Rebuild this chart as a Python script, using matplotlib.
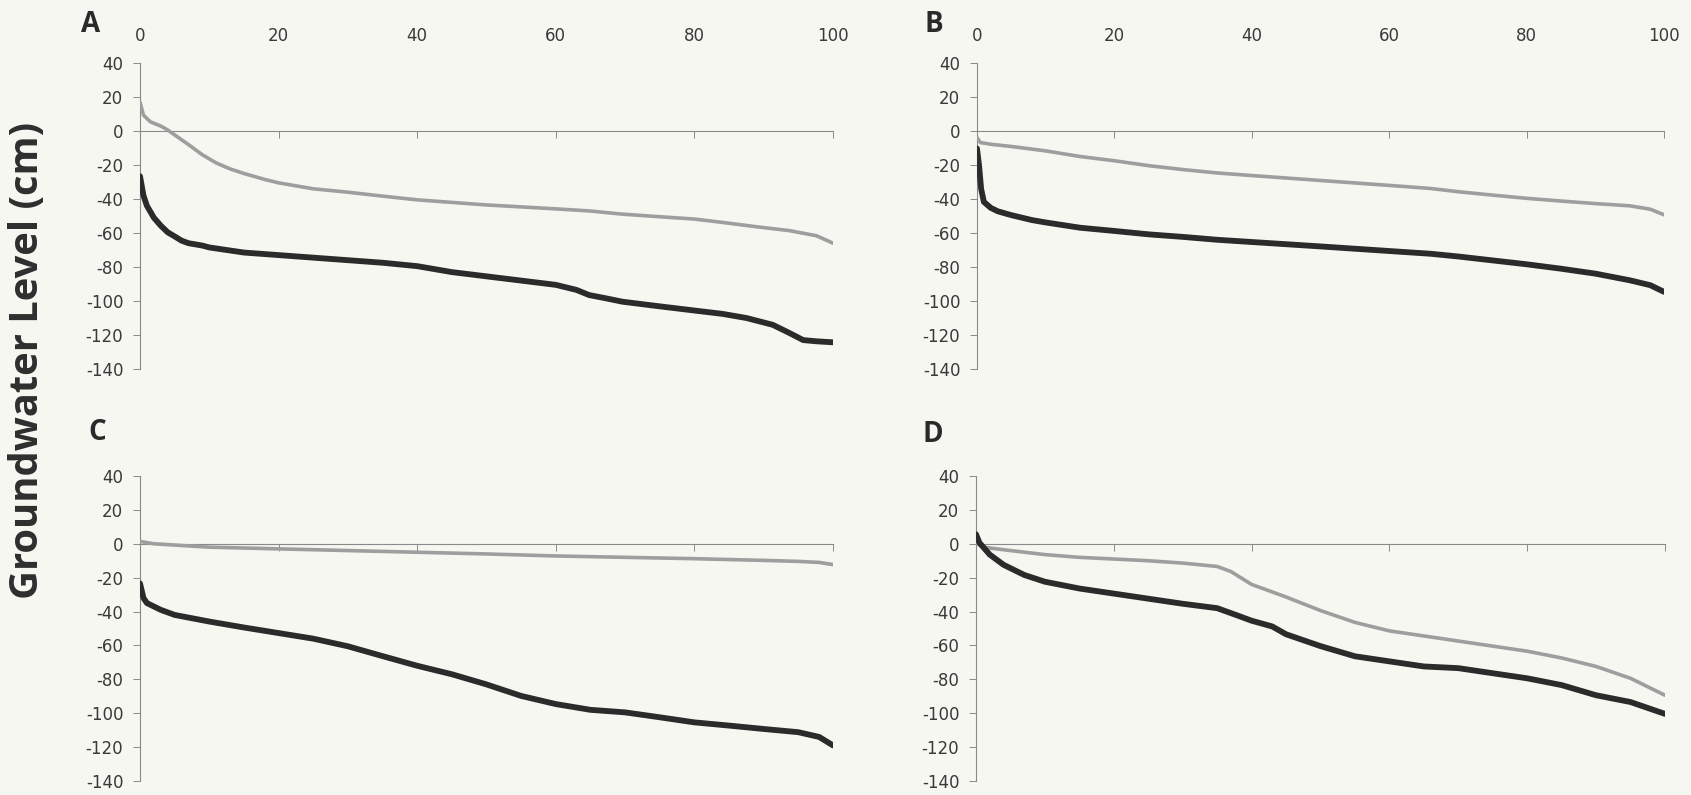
import matplotlib
matplotlib.use("Agg")
import matplotlib.pyplot as plt

# ---------------- data (percent of time exceeded vs groundwater level, cm) -------------
a_gray_x = [0, 0.5, 1.5, 3, 4, 5, 7, 9, 11, 13, 15, 18, 20, 25, 30, 35, 40, 50, 60, 64.8,
            69.6, 74.5, 80, 84.1, 88.9, 93.7, 97.6, 100]
a_gray_y = [17, 9.3, 5.4, 2.9, 0.6, -2.3, -8, -14, -18.8, -22.3, -25, -28.5, -30.5, -34, -36,
            -38.3, -40.5, -43.5, -45.8, -47, -48.9, -50.3, -51.8, -53.8, -56.3, -58.6, -61.6, -66]
a_black_x = [0, 0.5, 1, 2, 3, 4, 5, 6, 7, 9, 10, 15, 20, 25, 30, 35, 40, 45, 50, 55, 60, 63,
             64.8, 67.2, 69.6, 74.5, 80, 84.1, 87.5, 91.3, 93.7, 95.7, 97.6, 100]
a_black_y = [-26.6, -38, -44, -51, -55.7, -59.6, -62, -64.5, -66, -67.4, -68.5, -71.5, -73,
             -74.5, -76, -77.5, -79.5, -83, -85.5, -88, -90.5, -93.5, -96.5, -98.4, -100.4,
             -102.9, -105.6, -107.6, -110, -114, -118.8, -123, -123.7, -124.3]

b_gray_x = [0, 0.5, 2, 5, 10, 15, 20, 25, 30, 35, 40, 50, 60, 66, 70, 75, 80, 85, 90, 95, 98, 100]
b_gray_y = [-3.9, -6.8, -7.8, -9.1, -11.7, -15, -17.5, -20.4, -22.7, -24.7, -26.2, -29.1, -32,
            -33.8, -35.7, -37.7, -39.6, -41.2, -42.7, -44, -46, -49.3]
b_black_x = [0, 0.3, 0.6, 1, 2, 3, 5, 8, 10, 15, 20, 25, 30, 35, 40, 50, 60, 66, 70, 75, 80,
             85, 90, 95, 98, 100]
b_black_y = [-10.3, -20.4, -34, -41.7, -45.2, -47.2, -49.5, -52.4, -53.8, -56.9, -58.8, -60.8,
             -62.3, -64, -65.3, -67.9, -70.6, -72.2, -73.8, -76.1, -78.4, -81, -83.9, -87.8,
             -90.7, -94.6]

c_gray_x = [0, 2, 10, 20, 30, 40, 50, 60, 70, 80, 90, 95, 98, 100]
c_gray_y = [1.4, 0, -2, -3, -4, -5, -6, -7.2, -8, -8.8, -9.8, -10.4, -11, -12.3]
c_black_x = [0, 0.5, 1, 3, 5, 10, 15, 20, 25, 30, 35, 40, 45, 50, 55, 60, 65, 70, 75, 80, 85,
             90, 95, 98, 100]
c_black_y = [-23.4, -32, -35, -39, -42, -45.9, -49.4, -52.7, -56, -60.5, -66.3, -72, -77, -83,
             -89.8, -94.6, -98, -99.5, -102.4, -105.4, -107.3, -109.3, -111.2, -114, -119]

d_gray_x = [0, 1, 5, 10, 15, 20, 25, 30, 35, 37, 40, 45, 50, 55, 60, 65, 70, 75, 80, 85, 90,
            95, 98, 100]
d_gray_y = [0.6, -2, -4, -6.4, -8, -9, -10, -11.4, -13.4, -16.4, -24, -31.4, -39.4, -46.4, -51.4,
            -54.4, -57.4, -60.4, -63.4, -67.4, -72.4, -79.4, -85.4, -89.4]
d_black_x = [0, 0.5, 2, 4, 7, 10, 15, 20, 25, 30, 35, 38, 40, 43, 45, 50, 55, 60, 65, 70, 75,
             80, 85, 90, 95, 100]
d_black_y = [5.6, 0.6, -6.4, -12.4, -18.4, -22.4, -26.4, -29.4, -32.4, -35.4, -38, -42.4, -45.4,
             -48.8, -53.4, -60.4, -66.4, -69.4, -72.4, -73.4, -76.4, -79.4, -83.4, -89.4, -93.4,
             -100.4]

panel_letters = ["A", "B", "C", "D"]
x_ticks = [0, 20, 40, 60, 80, 100]
y_ticks = [40, 20, 0, -20, -40, -60, -80, -100, -120, -140]
y_label = "Groundwater Level (cm)"

# ---------------- figure ----------------
W, H = 1691, 795
BG = "#f5f7f0"
fig = plt.figure(figsize=(W / 100, H / 100), dpi=100, facecolor=BG)

def fx(px):
    return px / W

def fy(py):
    return 1 - py / H

# panel rectangles in pixel coords: (left, right, top(y=40), bottom(y=-140))
rects = [(140, 833, 63, 369), (977, 1664, 63, 369),
         (140, 833, 476, 781), (976, 1665, 476, 781)]
series = [(a_gray_x, a_gray_y, a_black_x, a_black_y),
          (b_gray_x, b_gray_y, b_black_x, b_black_y),
          (c_gray_x, c_gray_y, c_black_x, c_black_y),
          (d_gray_x, d_gray_y, d_black_x, d_black_y)]
letter_pos = [(91, 25), (934, 24), (97, 432), (933, 434)]
top_labels = [True, True, False, False]

AX_COL = "#8a8a8a"
TXT_COL = "#3a3a3a"
GRAY = "#9e9e9e"
BLACK = "#2b2b2b"

for i, ((l, r, t, b), (gx, gy, bx, by)) in enumerate(zip(rects, series)):
    ax = fig.add_axes([fx(l), fy(b), fx(r - l), (b - t) / H])
    ax.set_facecolor("none")
    ax.plot(gx, gy, color=GRAY, lw=2.6, solid_capstyle="round", solid_joinstyle="round", zorder=3)
    ax.plot(bx, by, color=BLACK, lw=4.2, solid_capstyle="round", solid_joinstyle="round", zorder=4)
    ax.set_xlim(0, 100)
    ax.set_ylim(-140, 40)
    for s in ["top", "right"]:
        ax.spines[s].set_visible(False)
    ax.spines["left"].set_color(AX_COL)
    ax.spines["left"].set_linewidth(0.8)
    ax.spines["bottom"].set_position(("data", 0))
    ax.spines["bottom"].set_color(AX_COL)
    ax.spines["bottom"].set_linewidth(0.8)
    ax.set_yticks(y_ticks)
    ax.set_yticklabels([str(v) if v >= 0 else "-" + str(-v) for v in y_ticks])
    ax.tick_params(axis="y", direction="out", length=5, width=0.7, color=AX_COL,
                   labelsize=12, labelcolor=TXT_COL, pad=7)
    ax.set_xticks(x_ticks)
    ax.tick_params(axis="x", direction="out", length=5, width=0.7, color=AX_COL,
                   labelbottom=False)
    if top_labels[i]:
        sec = ax.secondary_xaxis("top")
        sec.set_xticks(x_ticks)
        sec.set_xticklabels([str(v) for v in x_ticks])
        sec.tick_params(axis="x", length=0, labelsize=12, labelcolor=TXT_COL, pad=13)
        sec.spines["top"].set_visible(False)
    lx, ly = letter_pos[i]
    fig.text(fx(lx), fy(ly), panel_letters[i], ha="center", va="center",
             fontsize=20, fontweight="bold", family="Open Sans", color="#2a2a2a")

fig.text(fx(28), fy(360), y_label, rotation=90, ha="center", va="center",
         fontsize=28.7, fontweight="bold", family="Open Sans", color="#2e2e2e")

fig.savefig("out.png", dpi=100, facecolor=BG)
